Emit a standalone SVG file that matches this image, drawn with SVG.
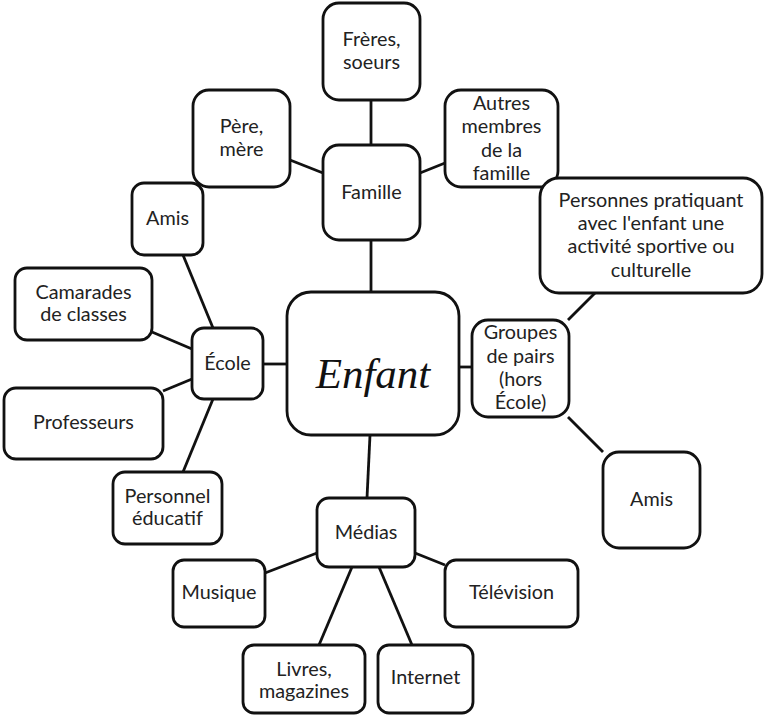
<svg xmlns="http://www.w3.org/2000/svg" width="764" height="716" viewBox="0 0 764 716">
<style>
.box{fill:#fff;stroke:#111;stroke-width:2.8}
.t{font-family:Lato,"Open Sans","Liberation Sans",sans-serif;font-size:19.8px;fill:#222;text-anchor:middle}
.big{font-family:"Liberation Serif","DejaVu Serif",serif;font-style:italic;font-size:43px;fill:#111;text-anchor:middle}
#connectors line{stroke:#111;stroke-width:2.8}
</style>
<rect width="764" height="716" fill="#fff"/>
<g id="connectors">
<line x1="371" y1="100" x2="371" y2="145"/>
<line x1="290" y1="160" x2="323" y2="173"/>
<line x1="420" y1="173" x2="445" y2="163"/>
<line x1="371" y1="240" x2="371" y2="292"/>
<line x1="183" y1="255" x2="213" y2="328"/>
<line x1="152" y1="332" x2="192" y2="349"/>
<line x1="163" y1="391" x2="192" y2="379"/>
<line x1="213" y1="399" x2="183" y2="472"/>
<line x1="263" y1="364" x2="287" y2="364"/>
<line x1="459" y1="367" x2="472" y2="367"/>
<line x1="568" y1="320" x2="595" y2="293"/>
<line x1="568" y1="417" x2="603" y2="452"/>
<line x1="370" y1="435" x2="367" y2="498"/>
<line x1="317" y1="553" x2="265" y2="573"/>
<line x1="415" y1="553" x2="445" y2="565"/>
<line x1="352" y1="567" x2="319" y2="645"/>
<line x1="379" y1="567" x2="412" y2="645"/>
</g>
<g id="freres"><rect class="box" x="323" y="3" width="97" height="97" rx="16"/><text class="t" x="371.5" y="46">Frères,</text><text class="t" x="371.5" y="69">soeurs</text></g>
<g id="famille"><rect class="box" x="323" y="145" width="97" height="95" rx="16"/><text class="t" x="371.5" y="199">Famille</text></g>
<g id="pere"><rect class="box" x="193" y="90" width="97" height="97" rx="16"/><text class="t" x="241.5" y="133">Père,</text><text class="t" x="241.5" y="156">mère</text></g>
<g id="autres"><rect class="box" x="445" y="90" width="113" height="97" rx="16"/><text class="t" x="501.5" y="110">Autres</text><text class="t" x="501.5" y="133">membres</text><text class="t" x="501.5" y="157">de la</text><text class="t" x="501.5" y="180">famille</text></g>
<g id="amis-ecole"><rect class="box" x="132" y="183" width="71" height="72" rx="12"/><text class="t" x="167.5" y="225">Amis</text></g>
<g id="personnes"><rect class="box" x="540" y="178" width="222" height="115" rx="19"/><text class="t" x="651" y="207">Personnes pratiquant</text><text class="t" x="651" y="230">avec l'enfant une</text><text class="t" x="651" y="253">activité sportive ou</text><text class="t" x="651" y="277">culturelle</text></g>
<g id="enfant"><rect class="box" x="287" y="292" width="172" height="143" rx="24"/><text class="big" x="373" y="388">Enfant</text></g>
<g id="camarades"><rect class="box" x="15" y="268" width="137" height="72" rx="12"/><text class="t" x="83.5" y="299">Camarades</text><text class="t" x="83.5" y="321">de classes</text></g>
<g id="ecole"><rect class="box" x="192" y="328" width="71" height="71" rx="12"/><text class="t" x="227.5" y="370">École</text></g>
<g id="professeurs"><rect class="box" x="4" y="388" width="159" height="71" rx="12"/><text class="t" x="83.5" y="429">Professeurs</text></g>
<g id="personnel"><rect class="box" x="113" y="472" width="109" height="72" rx="12"/><text class="t" x="167.5" y="503">Personnel</text><text class="t" x="167.5" y="525">éducatif</text></g>
<g id="groupes"><rect class="box" x="472" y="320" width="97" height="97" rx="16"/><text class="t" x="520.5" y="339">Groupes</text><text class="t" x="520.5" y="363">de pairs</text><text class="t" x="520.5" y="386">(hors</text><text class="t" x="520.5" y="409">École)</text></g>
<g id="amis-groupes"><rect class="box" x="603" y="452" width="97" height="96" rx="16"/><text class="t" x="651.5" y="506">Amis</text></g>
<g id="medias"><rect class="box" x="317" y="498" width="98" height="69" rx="12"/><text class="t" x="366" y="539">Médias</text></g>
<g id="musique"><rect class="box" x="173" y="560" width="92" height="67" rx="11"/><text class="t" x="219" y="599">Musique</text></g>
<g id="television"><rect class="box" x="445" y="560" width="133" height="67" rx="11"/><text class="t" x="511.5" y="599">Télévision</text></g>
<g id="livres"><rect class="box" x="243" y="645" width="122" height="68" rx="11"/><text class="t" x="304" y="676">Livres,</text><text class="t" x="304" y="698">magazines</text></g>
<g id="internet"><rect class="box" x="378" y="645" width="95" height="68" rx="11"/><text class="t" x="425.5" y="684">Internet</text></g>
</svg>
